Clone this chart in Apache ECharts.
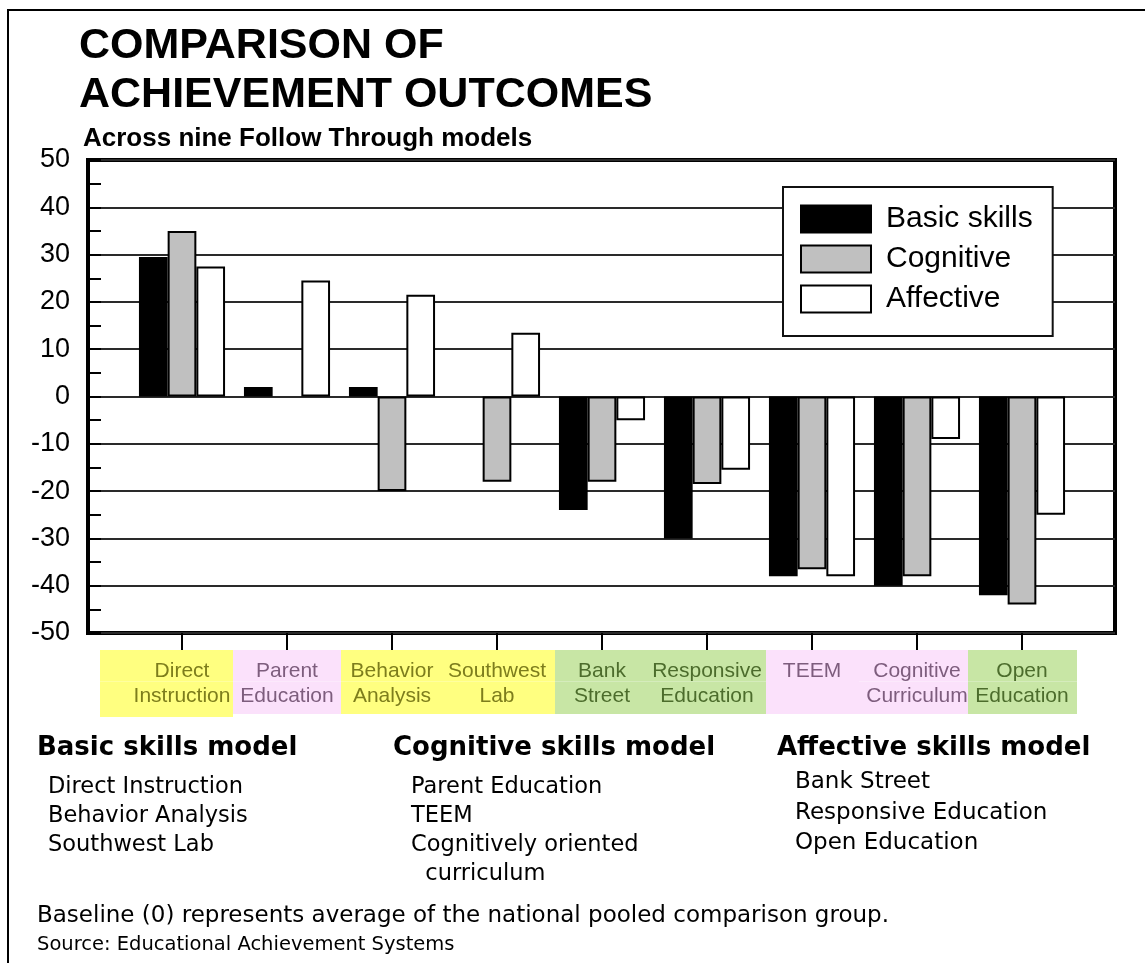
<!DOCTYPE html>
<html>
<head>
<meta charset="utf-8">
<script src="https://cdn.jsdelivr.net/npm/echarts@6/dist/echarts.min.js"></script>
<style>
html, body { margin: 0; padding: 0; background: #fff; }
#chart { width: 1145px; height: 963px; }
</style>
</head>
<body>
<div id="chart"></div>
<script>
// Follow Through models, in display order
const categories = ['Direct Instruction', 'Parent Education', 'Behavior Analysis', 'Southwest Lab',
  'Bank Street', 'Responsive Education', 'TEEM', 'Cognitive Curriculum', 'Open Education'];
// Skill model that each program belongs to
const modelOf = ['basic', 'cognitive', 'basic', 'basic', 'affective', 'affective', 'cognitive', 'cognitive', 'affective'];

// Outcomes relative to the national pooled comparison group (0 = average)
const basicSkills = [29.5, 2, 2, 0, -24, -30, -38, -40, -42];
const cognitiveSkills = [35, 0, -20, -18, -18, -18.5, -36.5, -38, -44];
const affectiveSkills = [27.5, 24.5, 21.5, 13.5, -5, -15.5, -38, -9, -25];

// Value axis range and step
const yMin = -50;
const yMax = 50;
const yStep = 10;

// Program lists printed under the chart
const basicList = ['Direct Instruction', 'Behavior Analysis', 'Southwest Lab'];
const cognitiveList = ['Parent Education', 'TEEM', 'Cognitively oriented', '  curriculum'];
const affectiveList = ['Bank Street', 'Responsive Education', 'Open Education'];

// ---- styling ----
const modelStyle = {
  basic: { bg: '#ffff80', fg: '#7d7d1c' },
  cognitive: { bg: '#fbe1fb', fg: '#7d5d7d' },
  affective: { bg: '#c8e6a5', fg: '#4c6c2c' }
};
// label box extent to the left / right of each tick, and box height
const labelBox = [[82, 51, 67], [54, 54, 64], [51, 51, 64], [54, 58, 64], [47, 46, 64],
  [59, 59, 64], [46, 47, 64], [58, 51, 64], [54, 55, 64]];
const LBL_FONT = 21, LBL_TOP = 10.5, LBL_GAP = 4;

const rich = {};
categories.forEach(function (name, i) {
  const a = labelBox[i][0], b = labelBox[i][1], h = labelBox[i][2];
  const m = Math.min(a, b);
  const pl = a - m, pr = b - m;
  const col = modelStyle[modelOf[i]];
  const base = { fontFamily: 'Liberation Sans', fontSize: LBL_FONT, color: col.fg,
    backgroundColor: col.bg, width: 2 * m, align: 'center' };
  const h1 = LBL_TOP + LBL_FONT;
  rich['h' + i] = Object.assign({}, base, { height: LBL_FONT, padding: [LBL_TOP, pr, 0, pl], lineHeight: h1 });
  const pb2 = h - h1 - LBL_GAP - LBL_FONT;
  rich['l' + i] = Object.assign({}, base, { height: LBL_FONT, padding: [LBL_GAP, pr, pb2, pl], lineHeight: h - h1 });
  const pb1 = h - h1;
  rich['o' + i] = Object.assign({}, base, { height: LBL_FONT, padding: [LBL_TOP, pr, pb1, pl], lineHeight: h });
  rich['s' + i] = { width: Math.abs(a - b), height: 8, lineHeight: 8, fontSize: 8 };
});

function wrapToken(style, i, text) {
  const a = labelBox[i][0], b = labelBox[i][1];
  const tok = '{' + style + i + '|' + text + '}';
  const sp = '{s' + i + '| }';
  if (a > b) return tok + sp;
  if (b > a) return sp + tok;
  return tok;
}

function categoryLabel(value, index) {
  const sp = value.indexOf(' ');
  if (sp < 0) return wrapToken('o', index, value);
  return wrapToken('h', index, value.slice(0, sp)) + '\n' + wrapToken('l', index, value.slice(sp + 1));
}

const GRID_TOP = 160, GRID_BOTTOM = 330;
const barEdge = { borderColor: '#000', borderWidth: 2 };

// a zero-height bar draws no outline
function barData(values) {
  return values.map(function (v) {
    return v === 0 ? { value: v, itemStyle: { borderWidth: 0 } } : v;
  });
}

function footer(text, left, top, size, lh, bold) {
  return {
    text: text, left: left, top: top, padding: 0,
    textStyle: { fontFamily: 'DejaVu Sans', fontSize: size, lineHeight: lh,
      fontWeight: bold ? 'bold' : 'normal', color: '#000' }
  };
}

const option = {
  animation: false,
  backgroundColor: '#fff',
  title: [
    { text: 'COMPARISON OF\nACHIEVEMENT OUTCOMES', left: 79, top: 21.5, padding: 0,
      textStyle: { fontFamily: 'Liberation Sans', fontWeight: 'bold', fontSize: 43, lineHeight: 49, color: '#000' } },
    { text: 'Across nine Follow Through models', left: 83, top: 125, padding: 0,
      textStyle: { fontFamily: 'Liberation Sans', fontWeight: 'bold', fontSize: 26, lineHeight: 28, color: '#000' } },
    footer('Basic skills model', 37, 733, 26, 30, true),
    footer('Cognitive skills model', 393, 733, 26, 30, true),
    footer('Affective skills model', 777, 733, 26, 30, true),
    footer(basicList.join('\n'), 48, 772.5, 22.5, 29, false),
    footer(cognitiveList.join('\n'), 411, 772.5, 22.5, 29, false),
    footer(affectiveList.join('\n'), 795, 767, 23, 30.5, false),
    footer('Baseline (0) represents average of the national pooled comparison group.', 37, 902, 23, 28, false),
    footer('Source: Educational Achievement Systems', 37, 933, 19.5, 24, false)
  ],
  graphic: [
    { type: 'rect', z: -1, silent: true,
      shape: { x: 8, y: 10, width: 1200, height: 1000 },
      style: { fill: 'none', stroke: '#000', lineWidth: 2 } }
  ],
  legend: {
    orient: 'vertical',
    left: 783, top: 187,
    padding: [17, 20, 22, 17],
    backgroundColor: '#fff',
    borderColor: '#111', borderWidth: 2, borderRadius: 0,
    itemWidth: 70, itemHeight: 27, itemGap: 10,
    icon: 'rect',
    itemStyle: { borderColor: '#000', borderWidth: 2 },
    textStyle: { fontFamily: 'Liberation Sans', fontSize: 30, lineHeight: 27, color: '#000', padding: [0, 0, 0, 10] },
    selectedMode: false,
    data: ['Basic skills', 'Cognitive', 'Affective']
  },
  grid: [
    { left: 88, right: 30, top: GRID_TOP, bottom: GRID_BOTTOM, show: true,
      borderColor: '#000', borderWidth: 4, backgroundColor: 'transparent', outerBoundsMode: 'none' },
    { left: 129.5, right: 70.5, top: GRID_TOP, bottom: GRID_BOTTOM, outerBoundsMode: 'none' }
  ],
  xAxis: [
    { gridIndex: 0, type: 'value', min: 0, max: 1, show: false },
    { gridIndex: 1, type: 'category', data: categories, position: 'bottom',
      axisLine: { show: false, onZero: false },
      axisTick: { show: true, alignWithLabel: true, length: 17, lineStyle: { color: '#000', width: 2 } },
      axisLabel: { interval: 0, margin: 17, formatter: categoryLabel, rich: rich, hideOverlap: false } }
  ],
  yAxis: [
    { gridIndex: 0, type: 'value', min: yMin, max: yMax, interval: yStep,
      axisLine: { show: false },
      axisTick: { show: true, inside: true, length: 13, lineStyle: { color: '#000', width: 2 } },
      minorTick: { show: true, splitNumber: 2, length: 13, lineStyle: { color: '#000', width: 2 } },
      splitLine: { show: true, lineStyle: { color: '#2a2a2a', width: 2 } },
      axisLabel: { margin: 18, fontFamily: 'Liberation Sans', fontSize: 27, color: '#000' } },
    { gridIndex: 1, type: 'value', min: yMin, max: yMax, interval: yStep, show: false }
  ],
  series: [
    { name: 'Basic skills', type: 'bar', xAxisIndex: 1, yAxisIndex: 1, data: barData(basicSkills),
      barGap: '0%', barCategoryGap: '18%',
      itemStyle: Object.assign({ color: '#000' }, barEdge), emphasis: { disabled: true } },
    { name: 'Cognitive', type: 'bar', xAxisIndex: 1, yAxisIndex: 1, data: barData(cognitiveSkills),
      barGap: '0%', barCategoryGap: '18%',
      itemStyle: Object.assign({ color: '#c0c0c0' }, barEdge), emphasis: { disabled: true } },
    { name: 'Affective', type: 'bar', xAxisIndex: 1, yAxisIndex: 1, data: barData(affectiveSkills),
      barGap: '0%', barCategoryGap: '18%',
      itemStyle: Object.assign({ color: '#fff' }, barEdge), emphasis: { disabled: true } }
  ]
};

const chart = echarts.init(document.getElementById('chart'), null, { renderer: 'canvas' });
chart.setOption(option);
</script>
</body>
</html>
